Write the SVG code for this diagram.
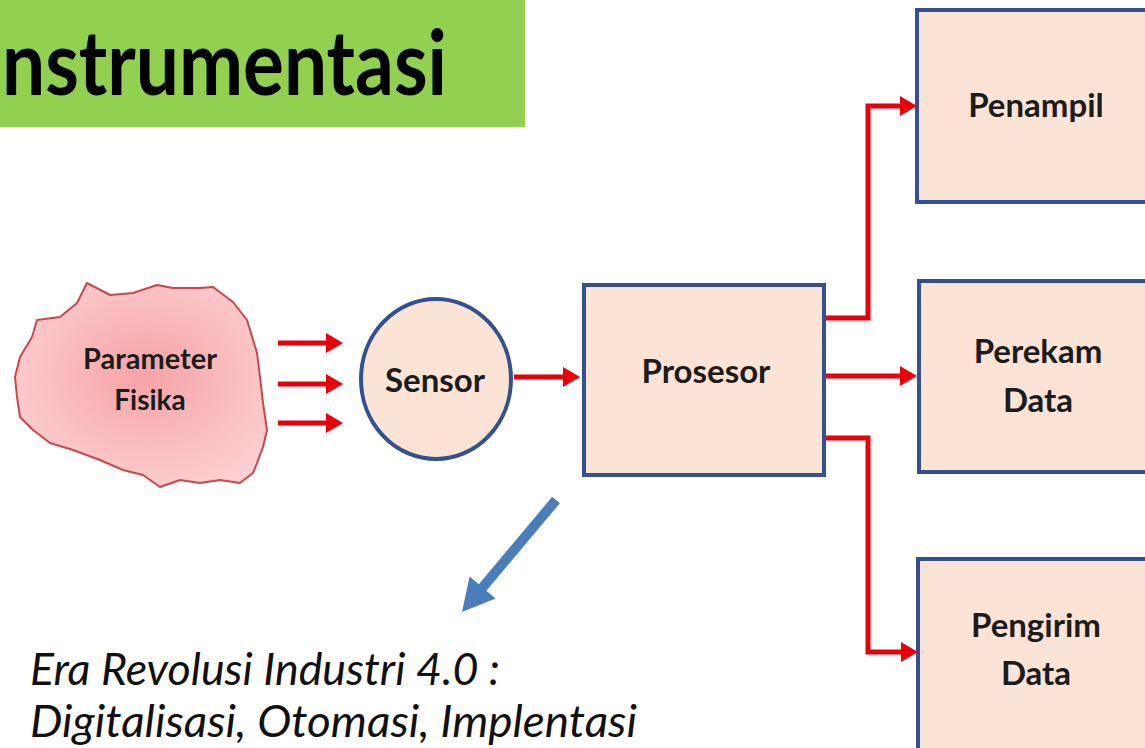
<svg xmlns="http://www.w3.org/2000/svg" width="1145" height="748" viewBox="0 0 1145 748">
<style>
.box{fill:#fbe3d5;stroke:#34508f;stroke-width:4}
.lbl{font-family:Lato,"Open Sans","Liberation Sans",sans-serif;font-weight:700;fill:#1c1c1c;text-anchor:middle}
.red{fill:none;stroke:#e8000b;stroke-width:5}
.it{font-family:Lato,"Open Sans","Liberation Sans",sans-serif;font-style:italic;font-size:44px;fill:#111}
</style>
<defs>
<marker id="ah" markerUnits="userSpaceOnUse" markerWidth="17" markerHeight="20" refX="9" refY="10" orient="auto">
<path d="M0,0 L17,10 L0,20 z" fill="#e8000b"/>
</marker>
<radialGradient id="cg" cx="0.52" cy="0.45" r="0.6">
<stop offset="0" stop-color="#f6a3a6"/>
<stop offset="1" stop-color="#fccfd0"/>
</radialGradient>
</defs>
<rect width="1145" height="748" fill="#ffffff"/>
<g id="title">
<rect x="0" y="0" width="525" height="127" fill="#92d050"/>
<text x="2" y="95" font-family="Lato,'Open Sans','Liberation Sans',sans-serif" font-weight="700" font-size="90" fill="#000" textLength="445" lengthAdjust="spacingAndGlyphs">nstrumentasi</text>
</g>
<g id="parameter-fisika">
<path d="M87,283 L110,295 L133,293 L157,285 L173,288 L200,288 L213,287 L233,302 L247,320 L257,353 L260,377 L263,403 L267,430 L263,447 L257,463 L253,473 L240,483 L220,480 L200,483 L180,480 L160,487 L143,475 L123,470 L100,460 L73,450 L50,443 L33,430 L20,417 L17,397 L15,377 L20,357 L32,337 L37,320 L60,317 L77,303 Z" fill="url(#cg)" stroke="#c8474f" stroke-width="2" stroke-linejoin="round"/>
<text class="lbl" x="150" y="369" font-size="28" fill="#3a1c1c" textLength="134" lengthAdjust="spacingAndGlyphs">Parameter</text>
<text class="lbl" x="150" y="410" font-size="28" fill="#3a1c1c">Fisika</text>
</g>
<g id="sensor">
<ellipse cx="436" cy="379" rx="75" ry="80" fill="#fbe3d5" stroke="#34508f" stroke-width="4"/>
<text class="lbl" x="435" y="392" font-size="33">Sensor</text>
</g>
<g id="prosesor">
<rect class="box" x="584" y="285" width="240" height="190"/>
<text class="lbl" x="706" y="383" font-size="33">Prosesor</text>
</g>
<g id="penampil">
<rect class="box" x="917" y="10" width="250" height="192"/>
<text class="lbl" x="1036" y="117" font-size="33">Penampil</text>
</g>
<g id="perekam-data">
<rect class="box" x="919" y="281" width="250" height="191"/>
<text class="lbl" x="1038" y="363" font-size="33">Perekam</text>
<text class="lbl" x="1038" y="412" font-size="33">Data</text>
</g>
<g id="pengirim-data">
<rect class="box" x="918" y="559" width="250" height="210"/>
<text class="lbl" x="1036" y="637" font-size="33">Pengirim</text>
<text class="lbl" x="1036" y="685" font-size="33">Data</text>
</g>
<g id="connectors">
<line class="red" x1="278" y1="343" x2="335" y2="343" marker-end="url(#ah)"/>
<line class="red" x1="278" y1="384" x2="335" y2="384" marker-end="url(#ah)"/>
<line class="red" x1="278" y1="423" x2="335" y2="423" marker-end="url(#ah)"/>
<line class="red" x1="514" y1="377" x2="572" y2="377" marker-end="url(#ah)"/>
<path class="red" d="M826,318 H868 V106 H909" marker-end="url(#ah)"/>
<path class="red" d="M826,376 H909" marker-end="url(#ah)"/>
<path class="red" d="M826,438 H868 V652 H910" marker-end="url(#ah)"/>
<polygon points="552.2,496.8 478.8,584.3 469.6,576.6 462,612 495.6,598.4 486.4,590.7 559.8,503.2" fill="#4a7ebb"/>
</g>
<g id="caption">
<text class="it" x="30" y="685" textLength="470" lengthAdjust="spacingAndGlyphs">Era Revolusi Industri 4.0 :</text>
<text class="it" x="30" y="737" textLength="607" lengthAdjust="spacingAndGlyphs">Digitalisasi, Otomasi, Implentasi</text>
</g>
</svg>
